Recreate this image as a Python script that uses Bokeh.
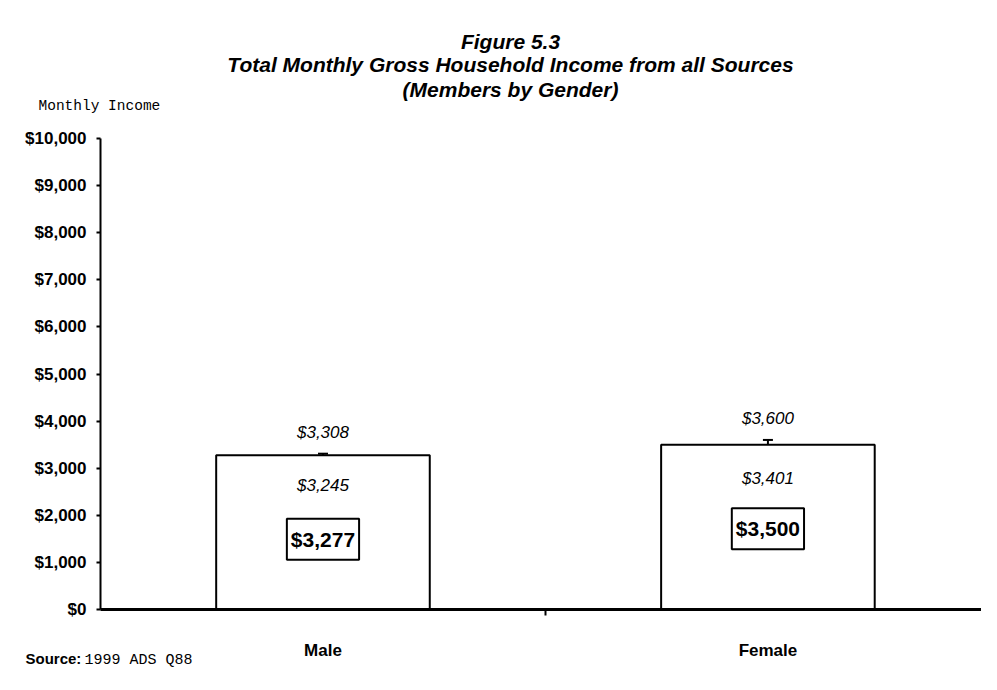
from bokeh.plotting import figure
from bokeh.models import (Range1d, FixedTicker, NumeralTickFormatter, Label,
                          ColumnDataSource, Whisker, TeeHead)
from bokeh.embed import file_html
from bokeh.resources import INLINE
from bokeh.core.properties import value

# ---- data ----
categories = ["Male", "Female"]
means = [3277, 3500]
lower = [3245, 3401]
upper = [3308, 3600]
y_ticks = list(range(0, 10001, 1000))

title_lines = ["Figure 5.3",
               "Total Monthly Gross Household Income from all Sources",
               "(Members by Gender)"]
y_label = "Monthly Income"
source_label = "Source:"
source_text = "1999 ADS Q88"

SANS = "Liberation Sans"
MONO = "Liberation Mono"


def money(v):
    return "${:,}".format(v)


xs = [i + 0.5 for i in range(len(categories))]
boundaries = [float(i + 1) for i in range(len(categories))]

src = ColumnDataSource(dict(
    x=xs, mean=means, lower=lower, upper=upper,
    mean_lbl=[money(v) for v in means],
    lower_lbl=[money(v) for v in lower],
    upper_lbl=[money(v) for v in upper],
))

p = figure(width=981, height=674, output_backend="svg", toolbar_location=None,
           title=None,
           x_range=Range1d(0, 1.98), y_range=Range1d(0, y_ticks[-1]),
           min_border_left=100, min_border_right=0,
           min_border_top=138, min_border_bottom=65)
p.xgrid.visible = False
p.ygrid.visible = False
p.outline_line_color = None
p.background_fill_color = "white"
p.border_fill_color = "white"

# bars
p.vbar(x="x", top="mean", width=0.48, source=src, fill_color="white",
       line_color="black", line_width=2)

# error bars
wh = Whisker(base="x", upper="upper", lower="lower", source=src,
             line_color="black", line_width=2,
             upper_head=TeeHead(size=10, line_width=2, line_color="black"),
             lower_head=TeeHead(size=10, line_width=2, line_color="black"))
p.add_layout(wh)

# value labels
p.text(x="x", y="upper", text="upper_lbl", source=src, text_align="center",
       text_baseline="middle", y_offset=-21, text_font=value(SANS),
       text_font_style="italic", text_font_size="17px", text_color="black")
p.text(x="x", y="lower", text="lower_lbl", source=src, text_align="center",
       text_baseline="middle", y_offset=29, text_font=value(SANS),
       text_font_style="italic", text_font_size="17px", text_color="black")
p.text(x="x", y="mean", text="mean_lbl", source=src, text_align="center",
       text_baseline="middle", y_offset=84, text_font=value(SANS),
       text_font_style="bold", text_font_size="21px", text_color="black",
       border_line_color="black", border_line_width=2,
       background_fill_color="white", padding=(4, 9))

# y axis
ya = p.yaxis[0]
ya.ticker = FixedTicker(ticks=y_ticks)
ya.formatter = NumeralTickFormatter(format="$0,0")
ya.major_label_text_font = SANS
ya.major_label_text_font_style = "bold"
ya.major_label_text_font_size = "17px"
ya.major_label_text_color = "black"
ya.major_tick_out = 4
ya.major_tick_in = 0
ya.minor_tick_out = 0
ya.minor_tick_in = 0
ya.major_label_standoff = 10
ya.axis_line_width = 2
ya.axis_line_color = "black"
ya.major_tick_line_width = 2
ya.major_tick_line_color = "black"

# x axis
xa = p.xaxis[0]
xa.ticker = FixedTicker(ticks=xs, minor_ticks=boundaries)
xa.major_label_overrides = {x: c for x, c in zip(xs, categories)}
xa.major_label_text_font = SANS
xa.major_label_text_font_style = "bold"
xa.major_label_text_font_size = "17px"
xa.major_label_text_color = "black"
xa.major_tick_out = 0
xa.major_tick_in = 0
xa.major_tick_line_color = None
xa.minor_tick_out = 6
xa.minor_tick_in = 0
xa.minor_tick_line_width = 2
xa.minor_tick_line_color = "black"
xa.major_label_standoff = 25
xa.axis_line_width = 3
xa.axis_line_color = "black"


# titles and notes: canvas-positioned labels living in a side panel (not clipped to the frame)
def note(cx, cy, text, font, style, size, align, baseline="middle"):
    p.add_layout(Label(x=cx, y=cy, x_units="canvas", y_units="canvas", text=text,
                       text_align=align, text_baseline=baseline, text_font=font,
                       text_font_style=style, text_font_size=size,
                       text_color="black"), "above")


for txt, cy in zip(title_lines, [41, 64, 89]):
    note(510, cy, txt, SANS, "bold italic", "21px", "center")

note(38, 105, y_label, MONO, "normal", "14.5px", "left")
note(25, 658, source_label, SANS, "bold", "15px", "left", "middle")
note(84, 660, source_text, MONO, "normal", "15px", "left", "middle")

open("out.html", "w").write(file_html(p, INLINE))
